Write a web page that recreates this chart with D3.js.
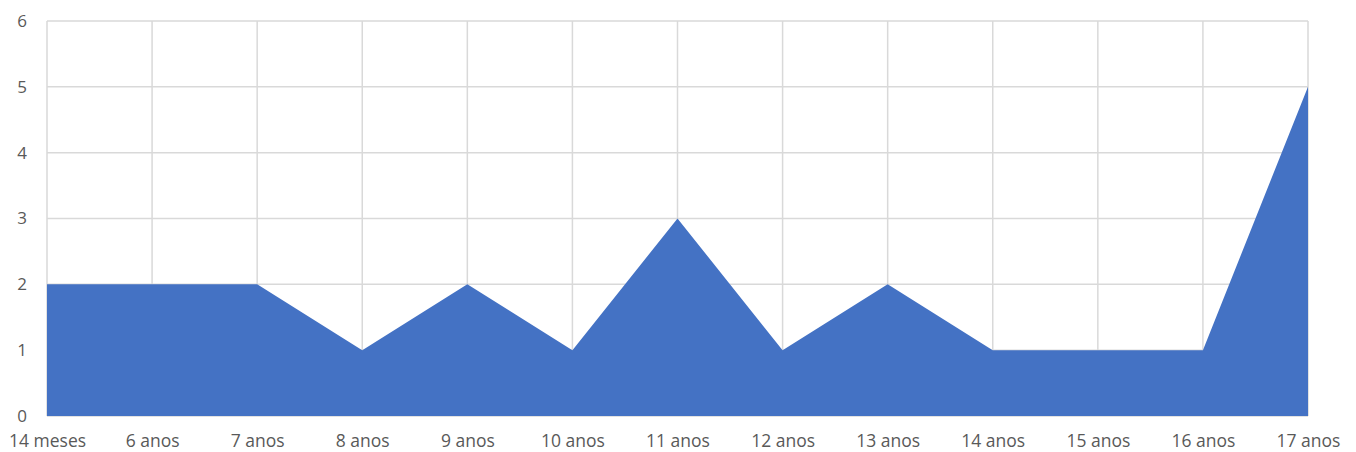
<!DOCTYPE html>
<html><head><meta charset="utf-8">
<script src="https://cdn.jsdelivr.net/npm/d3@7"></script>
<style>body{margin:0;background:#fff;} svg{display:block;} text{font-family:"Open Sans",sans-serif;fill:#595959;}</style>
</head><body>
<svg id="c" width="1356" height="452"></svg>
<script>
const categories = ["14 meses","6 anos","7 anos","8 anos","9 anos","10 anos","11 anos","12 anos","13 anos","14 anos","15 anos","16 anos","17 anos"];
const values = [2,2,2,1,2,1,3,1,2,1,1,1,5];
const yTicks = [0,1,2,3,4,5,6];

(function(){
const svg = d3.select("#c");
const mL = 47, mR = 1308, mT = 21, mB = 416;
const x = d3.scalePoint().domain(categories).range([mL, mR]);
const y = d3.scaleLinear().domain([0, 6]).range([mB, mT]);

const grid = svg.append("g");
grid.selectAll("line.h").data(yTicks).join("line").attr("class","h")
  .attr("x1", mL).attr("x2", mR)
  .attr("y1", d => y(d)).attr("y2", d => y(d))
  .attr("stroke", "#d9d9d9").attr("stroke-width", 1.5);
grid.selectAll("line.v").data(categories).join("line").attr("class","v")
  .attr("x1", d => x(d)).attr("x2", d => x(d))
  .attr("y1", mT).attr("y2", mB)
  .attr("stroke", "#d9d9d9").attr("stroke-width", 1.5);

const area = d3.area().x((d, i) => x(categories[i])).y0(y(0)).y1(d => y(d));
svg.append("path").datum(values).attr("d", area).attr("fill", "#4472c4");

const yAxis = d3.axisLeft(y).tickValues(yTicks).tickSize(0).tickPadding(20).tickFormat(d3.format("d"));
const gy = svg.append("g").attr("transform", `translate(${mL},0)`).call(yAxis);
gy.select(".domain").remove();
gy.selectAll("text").style("font-size", "17px").style("font-family", "'Open Sans',sans-serif").attr("fill", "#595959");

const xAxis = d3.axisBottom(x).tickSize(0).tickPadding(19);
const gx = svg.append("g").attr("transform", `translate(0,${mB})`).call(xAxis);
gx.select(".domain").remove();
gx.selectAll("text").style("font-size", "17.5px").style("font-family", "'Open Sans',sans-serif").attr("fill", "#595959");
})();
</script>
</body></html>
